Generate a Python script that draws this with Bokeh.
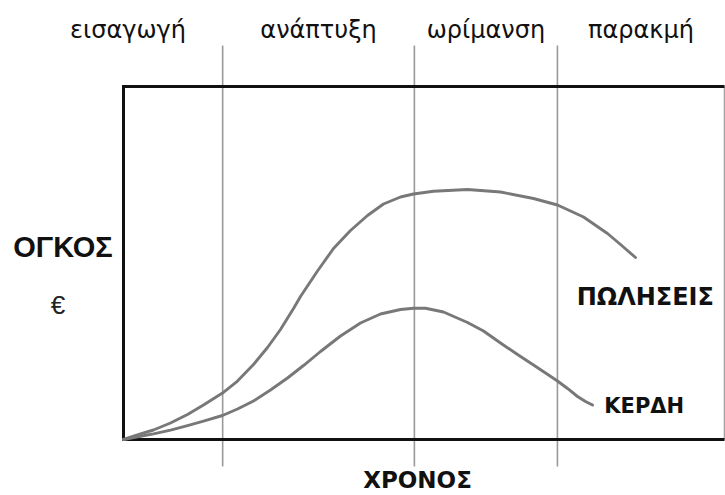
from bokeh.plotting import figure
from bokeh.models import Range1d
from bokeh.core.properties import value
from bokeh.embed import file_html
from bokeh.resources import INLINE

# ---- data (time 0..100 across the box, volume 0..100 up the box) ----
sales_t = [0.0, 2.83, 4.99, 7.82, 10.65, 13.31, 16.47, 18.97, 21.63, 23.96, 26.12, 28.29,
           29.45, 32.28, 34.94, 37.77, 40.60, 43.26, 46.09, 48.25, 51.58, 57.24, 62.73,
           68.22, 72.21, 76.54, 80.53, 82.70, 85.19]
sales_v = [0.0, 1.56, 2.69, 4.67, 7.08, 9.77, 13.17, 16.57, 21.25, 26.06, 31.16, 37.11,
           40.51, 47.73, 54.11, 59.21, 63.46, 66.71, 68.70, 69.55, 70.34, 70.82, 70.11,
           68.27, 66.43, 63.03, 58.36, 55.24, 51.56]

profit_t = [0.0, 2.83, 4.99, 7.82, 10.65, 13.31, 16.47, 18.97, 21.63, 24.46, 27.29, 29.95,
            32.78, 36.11, 39.43, 42.76, 46.09, 48.25, 50.25, 53.24, 57.24, 59.90, 62.73,
            65.56, 68.22, 70.22, 72.21, 73.88, 75.54, 76.87, 78.04]
profit_v = [0.0, 0.93, 1.59, 2.66, 3.91, 5.18, 6.80, 8.64, 10.91, 14.02, 17.42, 20.96,
            24.93, 29.32, 33.00, 35.55, 36.83, 37.17, 37.17, 36.12, 33.14, 30.74, 27.34,
            24.08, 21.10, 18.84, 16.57, 14.45, 12.18, 10.76, 9.77]

phase_names = ["εισαγωγή", "ανάπτυξη", "ωρίμανση", "παρακμή"]
phase_bounds = [16.5, 48.4, 72.2]          # phase boundaries on the time axis

sales_label = "ΠΩΛΗΣΕΙΣ"
profit_label = "ΚΕΡΔΗ"
y_title = "ΟΓΚΟΣ"
y_unit = "€"
x_title = "ΧΡΟΝΟΣ"

# ---- layout ----
W, H = 725, 495
BOX_L, BOX_R, BOX_B, BOX_T = 0.0, 100.0, 0.0, 100.0
X0, X1 = -20.466, 100.166
Y0, Y1 = -15.864, 124.363

p = figure(width=W, height=H, x_range=Range1d(X0, X1), y_range=Range1d(Y0, Y1),
           output_backend="svg", toolbar_location=None,
           x_axis_location=None, y_axis_location=None, min_border=0)
p.grid.visible = False
p.outline_line_color = None
p.background_fill_color = "white"
p.border_fill_color = "white"

# phase separators (extend above and below the box)
n = len(phase_bounds)
p.segment(x0=phase_bounds, y0=[-7.65] * n, x1=phase_bounds, y1=[111.6] * n,
          line_color="#9a9a9a", line_width=1.6)

# box
p.line([BOX_R, BOX_R], [BOX_B, BOX_T], line_color="#a0a0a0", line_width=1.5)
p.line([BOX_R, BOX_L, BOX_L, BOX_R], [BOX_T, BOX_T, BOX_B, BOX_B],
       line_color="#111111", line_width=3, line_join="miter")

# curves
p.line(sales_t, sales_v, line_color="#787878", line_width=2.9,
       line_join="round", line_cap="round")
p.line(profit_t, profit_v, line_color="#787878", line_width=2.9,
       line_join="round", line_cap="round")

# phase labels centred between the boundaries
edges = [-15.0] + phase_bounds + [100.0]
centers = [(a + b) / 2 for a, b in zip(edges[:-1], edges[1:])]
p.text(x=centers, y=[115.9] * len(centers), text=phase_names, text_align="center",
       text_baseline="middle", text_font=value("DejaVu Sans"),
       text_font_size="24px", text_color="#111111")

bold = dict(text_font=value("DejaVu Sans"), text_font_style="bold",
            text_color="#111111", text_baseline="middle")
p.text(x=[-10.07], y=[54.4], text=[y_title], text_align="center",
       text_font=value("Liberation Sans"), text_font_style="bold",
       text_font_size="29px", text_color="#111111", text_baseline="middle")
p.text(x=[-10.9], y=[38.2], text=[y_unit], text_align="center",
       text_font=value("Liberation Sans"), text_font_size="26px",
       text_color="#222222", text_baseline="middle")
p.text(x=[75.4], y=[40.5], text=[sales_label], text_align="left",
       text_font_size="24px", **bold)
p.text(x=[80.0], y=[9.6], text=[profit_label], text_align="left",
       text_font_size="21px", **bold)
p.text(x=[48.92], y=[-11.6], text=[x_title], text_align="center",
       text_font_size="23px", **bold)

open("out.html", "w").write(file_html(p, INLINE))
